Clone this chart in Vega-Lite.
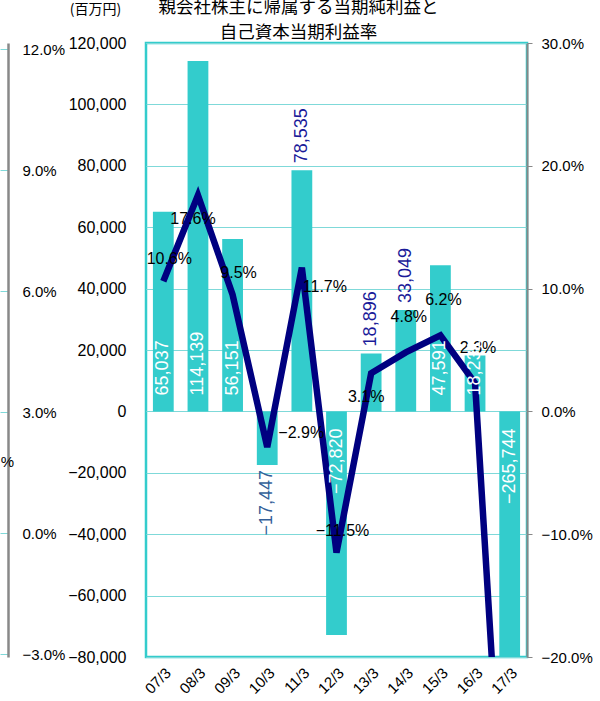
{
  "$schema": "https://vega.github.io/schema/vega-lite/v6.json",
  "width": 381,
  "height": 614,
  "autosize": "none",
  "padding": {"left": 146, "top": 43, "right": 73, "bottom": 44},
  "background": "white",
  "config": {
    "font": "Liberation Sans",
    "view": {"stroke": "#33CCCC", "strokeWidth": 2.5},
    "axis": {"labelColor": "#000000", "labelFont": "Liberation Sans", "titleColor": "#000000"}
  },
  "title": {
    "text": ["親会社株主に帰属する当期純利益と", "自己資本当期利益率"],
    "font": "Noto Sans CJK JP",
    "fontSize": 17.5,
    "fontWeight": "normal",
    "lineHeight": 25,
    "offset": 4,
    "dx": -38,
    "dy": 43,
    "color": "#000000"
  },
  "data": {"values": [
    {"period": "07/3", "profit": 65037, "roe": 10.6},
    {"period": "08/3", "profit": 114139, "roe": 17.6},
    {"period": "09/3", "profit": 56151, "roe": 9.5},
    {"period": "10/3", "profit": -17447, "roe": -2.9},
    {"period": "11/3", "profit": 78535, "roe": 11.7},
    {"period": "12/3", "profit": -72820, "roe": -11.5},
    {"period": "13/3", "profit": 18896, "roe": 3.1},
    {"period": "14/3", "profit": 33049, "roe": 4.8},
    {"period": "15/3", "profit": 47591, "roe": 6.2},
    {"period": "16/3", "profit": 18231, "roe": 2.3},
    {"period": "17/3", "profit": -265744, "roe": -44}
  ]},
  "encoding": {
    "x": {"field": "period", "type": "nominal", "sort": null,
      "scale": {"type": "band", "paddingInner": 0.4, "paddingOuter": 0.2},
      "axis": {"orient": "bottom", "labelAngle": -45, "domain": false, "ticks": false, "title": null,
        "labelFontSize": 15, "labelPadding": 8, "grid": false}}
  },
  "layer": [
    {
      "mark": {"type": "point", "opacity": 0},
      "encoding": {
        "y": {"datum": 0, "type": "quantitative",
          "scale": {"domain": [-3.07, 12.15], "nice": false, "zero": false},
          "axis": {"orient": "left", "offset": 138, "values": [-3, 0, 3, 6, 9, 12],
            "labelExpr": "format(datum.value, '.1f') + '%'",
            "grid": false, "domain": true, "domainColor": "#888888", "domainWidth": 2.5,
            "ticks": true, "tickSize": 8, "tickColor": "#7FD9D9", "tickWidth": 1,
            "labelAlign": "left", "labelPadding": -22, "labelFontSize": 15, "labelBaseline": "middle",
            "title": "%", "titleAngle": 0, "titleX": -1, "titleY": 418, "titleFontSize": 15,
            "titleFontWeight": "normal", "titleFont": "Liberation Sans", "titleAlign": "center", "titleBaseline": "middle"}
        }
      }
    },
    {
      "mark": {"type": "bar", "color": "#33CCCC", "clip": true},
      "encoding": {
        "y": {"field": "profit", "type": "quantitative",
          "scale": {"domain": [-80000, 120000], "nice": false},
          "axis": {"orient": "left", "values": [-80000, -60000, -40000, -20000, 0, 20000, 40000, 60000, 80000, 100000, 120000],
            "format": ",d", "grid": true, "gridColor": "#7FD9D9", "gridWidth": 1, "domain": false, "ticks": false,
            "labelPadding": 20, "labelFontSize": 16,
            "title": "(百万円)", "titleAngle": 0, "titleX": -51, "titleY": -34, "titleFont": "Noto Sans CJK JP",
            "titleFontSize": 14, "titleFontWeight": "normal", "titleAlign": "center", "titleBaseline": "middle"}}
      }
    },
    {
      "mark": {"type": "line", "color": "#000080", "strokeWidth": 6.5, "clip": true},
      "encoding": {
        "y": {"field": "roe", "type": "quantitative",
          "scale": {"domain": [-20, 30], "nice": false},
          "axis": {"orient": "right", "values": [-20, -10, 0, 10, 20, 30],
            "labelExpr": "format(datum.value, '.1f') + '%'",
            "grid": true, "gridColor": "#7FD9D9", "gridWidth": 1,
            "domain": true, "domainColor": "#888888", "domainWidth": 2,
            "ticks": true, "tickColor": "#888888", "tickSize": 5,
            "labelPadding": 9, "labelFontSize": 15, "title": null}}
      }
    },
    {
      "transform": [{"calculate": "format(datum.roe, '.1f') + '%'", "as": "roe_label"}],
      "encoding": {
        "y": {"field": "roe", "type": "quantitative", "scale": {"domain": [-20, 30], "nice": false}, "axis": null},
        "text": {"field": "roe_label", "type": "nominal"}
      },
      "layer": [
        {"transform": [{"filter": {"field": "period", "oneOf": ["07/3", "09/3", "12/3"]}}],
         "mark": {"type": "text", "dx": 6, "dy": -22, "fontSize": 16, "color": "#000000"}},
        {"transform": [{"filter": {"field": "period", "oneOf": ["14/3", "15/3", "16/3"]}}],
         "mark": {"type": "text", "dx": 3, "dy": -35, "fontSize": 16, "color": "#000000"}},
        {"transform": [{"filter": {"field": "period", "oneOf": ["08/3", "13/3"]}}],
         "mark": {"type": "text", "dx": -5, "dy": 24, "fontSize": 16, "color": "#000000"}},
        {"transform": [{"filter": {"field": "period", "oneOf": ["10/3"]}}],
         "mark": {"type": "text", "dx": 34, "dy": -14, "fontSize": 16, "color": "#000000"}},
        {"transform": [{"filter": {"field": "period", "oneOf": ["11/3"]}}],
         "mark": {"type": "text", "dx": 23, "dy": 19, "fontSize": 16, "color": "#000000"}}
      ]
    },
    {
      "encoding": {
        "text": {"field": "profit", "type": "quantitative", "format": ",d"}
      },
      "layer": [
        {"transform": [{"filter": {"field": "period", "oneOf": ["07/3", "08/3", "09/3", "15/3", "16/3"]}}],
         "mark": {"type": "text", "angle": 270, "align": "left", "baseline": "middle", "dx": 16, "fontSize": 18, "color": "#FFFFFF"},
         "encoding": {"y": {"datum": 0, "type": "quantitative", "scale": {"domain": [-80000, 120000], "nice": false}, "axis": null}}},
        {"transform": [{"filter": {"field": "period", "oneOf": ["12/3", "17/3"]}}],
         "mark": {"type": "text", "angle": 270, "align": "right", "baseline": "middle", "dx": -17, "fontSize": 18, "color": "#FFFFFF"},
         "encoding": {"y": {"datum": 0, "type": "quantitative", "scale": {"domain": [-80000, 120000], "nice": false}, "axis": null}}},
        {"transform": [{"filter": {"field": "period", "oneOf": ["11/3", "13/3", "14/3"]}}],
         "mark": {"type": "text", "angle": 270, "align": "left", "baseline": "middle", "dx": 7, "fontSize": 18, "color": "#1A1A99"},
         "encoding": {"y": {"field": "profit", "type": "quantitative", "scale": {"domain": [-80000, 120000], "nice": false}, "axis": null}}},
        {"transform": [{"filter": {"field": "period", "oneOf": ["10/3"]}}],
         "mark": {"type": "text", "angle": 270, "align": "right", "baseline": "middle", "dx": -5, "fontSize": 18, "color": "#335F99"},
         "encoding": {"y": {"field": "profit", "type": "quantitative", "scale": {"domain": [-80000, 120000], "nice": false}, "axis": null}}}
      ]
    }
  ],
  "resolve": {"scale": {"y": "independent"}}
}
